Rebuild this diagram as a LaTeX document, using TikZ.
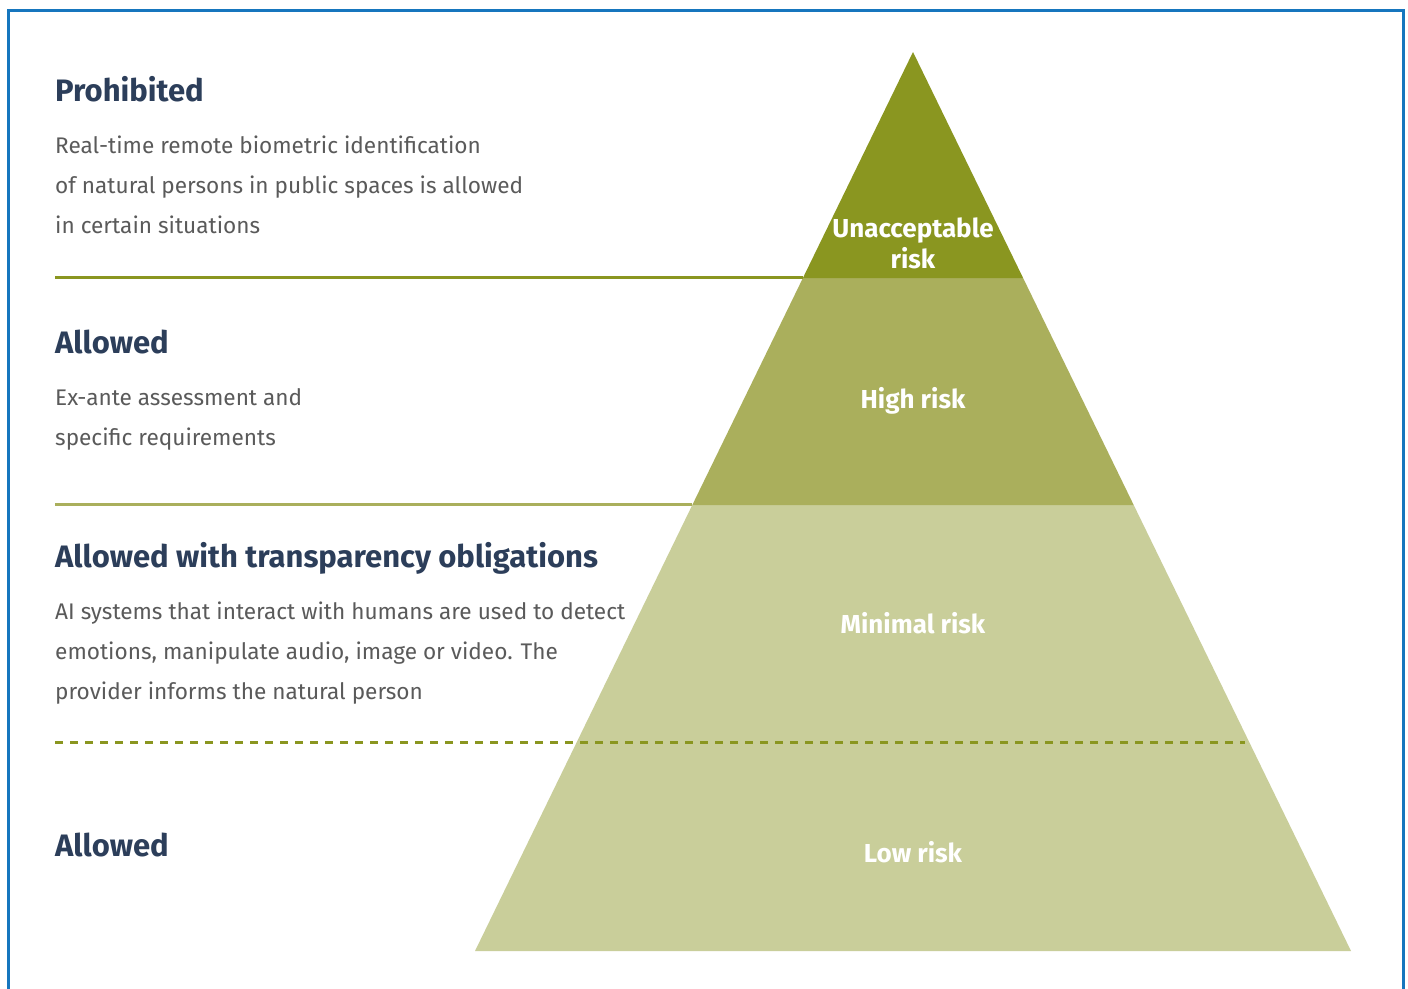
\documentclass[tikz,border=0pt]{standalone}
\usepackage{fontspec}
\setmainfont{Fira Sans}
\definecolor{frameblue}{RGB}{22,118,190}
\definecolor{olivedark}{RGB}{138,150,32}
\definecolor{olivemid}{RGB}{170,175,92}
\definecolor{olivelight}{RGB}{201,206,154}
\definecolor{headnavy}{RGB}{44,62,90}
\definecolor{bodygray}{RGB}{90,90,90}
\tikzset{
  head/.style={anchor=base west, inner sep=0pt, text=headnavy, font=\fontsize{31}{33}\selectfont\bfseries},
  body/.style={anchor=base west, inner sep=0pt, text=bodygray, font=\fontsize{22.6}{25}\selectfont},
  tier/.style={anchor=base, inner sep=0pt, text=white, font=\fontsize{26}{28}\selectfont\bfseries},
}
\begin{document}
\begin{tikzpicture}[x=1pt,y=-1pt]
\useasboundingbox (0,0) rectangle (1408,988);
\fill[white] (0,0) rectangle (1408,988);
% frame
\draw[frameblue, line width=3pt] (8.5,1000) -- (8.5,10.5) -- (1403.5,10.5) -- (1403.5,1000);
% pyramid bands
\coordinate (apex) at (913,52);
\coordinate (bl) at (475,951);
\coordinate (br) at (1351,951);
\coordinate (l1) at (802.9,278);
\coordinate (r1) at (1023.1,278);
\coordinate (l2) at (692.3,505);
\coordinate (r2) at (1133.7,505);
\fill[olivelight] (l2) -- (r2) -- (br) -- (bl) -- cycle;
\fill[olivemid] (l1) -- (r1) -- (r2) -- (l2) -- cycle;
\fill[olivedark] (apex) -- (r1) -- (l1) -- cycle;
% separator lines
\coordinate (s1) at (55,277);
\coordinate (s2) at (55,504);
\coordinate (s3) at (55,742);
\coordinate (e3) at (1245,742);
\draw[olivedark, line width=3pt] (s1) -- (l1 |- s1);
\draw[olivemid, line width=3pt] (s2) -- (l2 |- s2);
\draw[olivedark, line width=3pt, dash pattern=on 8pt off 7pt] (s3) -- (e3);
% headings
\node[head] (h1) at (55,101) {Prohibited};
\node[head] (h2) at (55,353) {Allowed};
\node[head] (h3) at (55,567) {Allowed with transparency obligations};
\node[head] (h4) at (55,856) {Allowed};
% body text
\node[body] (b1a) at (55,153) {Real-time remote biometric identification};
\node[body] (b1b) at (55,193) {of natural persons in public spaces is allowed};
\node[body] (b1c) at (55,233) {in certain situations};
\node[body] (b2a) at (55,405) {Ex-ante assessment and};
\node[body] (b2b) at (55,445) {specific requirements};
\node[body] (b3a) at (55,619) {AI systems that interact with humans are used to detect};
\node[body] (b3b) at (55,659) {emotions, manipulate audio, image or video. The};
\node[body] (b3c) at (55,699) {provider informs the natural person};
% tier labels
\node[tier] (t1a) at (913,237) {Unacceptable};
\node[tier] (t1b) at (913,268) {risk};
\node[tier] (t2) at (913,408) {High risk};
\node[tier] (t3) at (913,633) {Minimal risk};
\node[tier] (t4) at (913,862) {Low risk};
\end{tikzpicture}
\end{document}
